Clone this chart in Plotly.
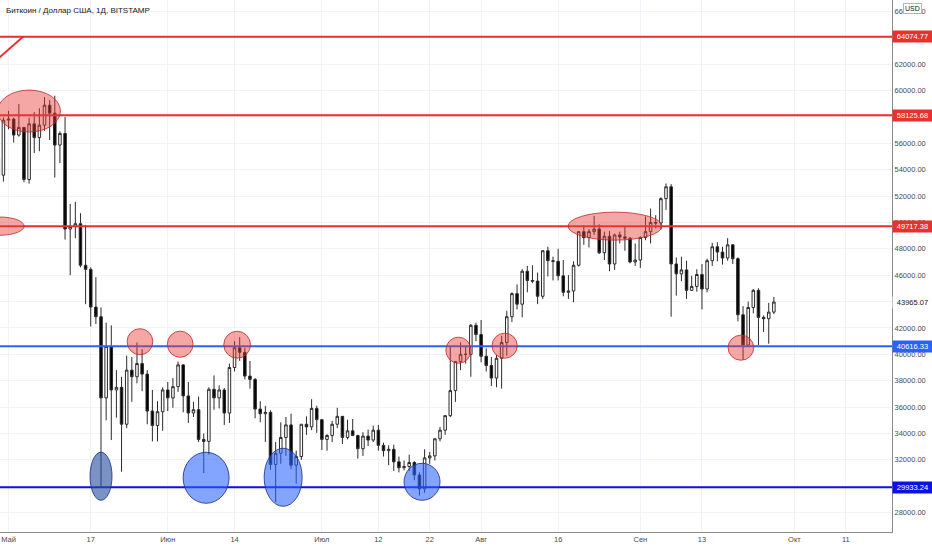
import pandas as pd
import plotly.graph_objects as go

# BTC/USD daily, Bitstamp
dates = pd.date_range("2021-04-29", "2021-09-27", freq="D")

opens = [54890, 53580, 57750, 57830, 56620, 57200, 53250, 57470, 56430, 57370, 58880, 58280, 55860, 56740,
         49500, 49700, 49900, 46750, 46440, 43580, 42850, 36700, 40600, 37300, 37500, 34700, 38800, 38300,
         39300, 38500, 35700, 34600, 35650, 37300, 36700, 37550, 39200, 36850, 35550, 35800, 33550, 33400,
         37350, 36700, 37300, 35550, 39000, 40500, 40150, 38350, 38100, 35850, 35500, 35600, 31650, 32500,
         33700, 34650, 31600, 32250, 34700, 34500, 35900, 35050, 33550, 33850, 34700, 35300, 33700, 34200,
         33850, 32850, 33800, 33500, 34250, 33100, 32700, 32800, 31850, 31400, 31500, 31800, 30850, 29800,
         32150, 32300, 33600, 34250, 35350, 37250, 39450, 40000, 40000, 42200, 41500, 39850, 39150, 38200,
         39700, 40900, 42850, 44600, 43800, 46300, 45600, 45550, 44400, 47850, 47100, 47050, 45950, 44700,
         44800, 46750, 49300, 48850, 49300, 49500, 47700, 48950, 46850, 49050, 48900, 48800, 47000, 47150,
         48850, 49300, 50000, 49950, 51800, 52700, 46850, 46100, 46400, 44850, 45150, 46050, 44950, 47100,
         48150, 47750, 47300, 48300, 47250, 43000, 40700, 43550, 44850, 42800, 42700, 43200]
highs = [55200, 57960, 58460, 57940, 58980, 57230, 57940, 58360, 58650, 59500, 59270, 59600, 56900, 58000,
         51400, 51560, 50700, 49800, 46600, 45850, 43550, 42400, 42200, 38800, 38300, 39900, 39800, 40900,
         40400, 38800, 37300, 36450, 37500, 37900, 38200, 39450, 39250, 37900, 36400, 36800, 34000, 37500,
         38400, 37650, 37450, 39300, 41000, 41300, 40500, 39500, 38200, 36450, 36100, 35750, 33350, 34850,
         35250, 35500, 32700, 34700, 35300, 36600, 36100, 35050, 33950, 34950, 35950, 35300, 35050, 35100,
         33900, 34100, 34300, 34600, 34650, 33300, 33100, 33150, 32250, 31950, 32400, 31900, 31050, 32800,
         32600, 33600, 34500, 35400, 40550, 39500, 40900, 40600, 42300, 42400, 42600, 40450, 39800, 39950,
         41400, 43300, 44700, 45300, 46450, 46700, 46750, 46200, 47900, 48150, 47400, 48000, 47150, 46000,
         47050, 49350, 49800, 49500, 50500, 49850, 49300, 49350, 49150, 49300, 49650, 48900, 48400, 48950,
         50450, 51050, 50550, 51900, 52950, 52900, 47350, 47400, 47100, 45950, 46450, 46850, 47250, 48450,
         48500, 48150, 48800, 48350, 47350, 43650, 44000, 44950, 45000, 42950, 43900, 44350]
lows = [52370, 53090, 57060, 56050, 56500, 53050, 52940, 55250, 55400, 56950, 56250, 53400, 54500, 48700,
        46000, 48800, 46600, 43800, 42100, 42300, 30000, 35000, 33500, 35200, 31100, 34400, 36400, 37800,
        37200, 34700, 33400, 33400, 34200, 35700, 35950, 37150, 35600, 34800, 35250, 33350, 31000, 32400,
        35800, 35900, 34650, 34800, 38700, 39500, 38100, 37400, 35150, 34850, 33350, 31250, 28800, 31700,
        32300, 31300, 30200, 32000, 33900, 34250, 34050, 32750, 32700, 33350, 34400, 33200, 33550, 33800,
        32100, 32300, 33050, 33350, 32700, 32250, 31600, 31150, 31050, 31200, 31150, 30450, 29300, 29500,
        31700, 31950, 33400, 33900, 35250, 36400, 38800, 39300, 38300, 41000, 39400, 38700, 37600, 37500,
        37400, 39900, 42450, 43400, 42800, 44700, 45400, 43800, 44200, 45900, 45600, 45600, 44400, 44200,
        43950, 46650, 48300, 48100, 49050, 47600, 47150, 46300, 46400, 48400, 47850, 46900, 46700, 46550,
        48650, 48400, 49550, 49450, 50950, 42850, 44450, 45550, 44200, 44800, 44750, 43400, 44700, 46700,
        47050, 46800, 47100, 46850, 42500, 39600, 40550, 43100, 40700, 41700, 40800, 43050]
closes = [53580, 57750, 57830, 56620, 57200, 53250, 57470, 56430, 57370, 58880, 58280, 55860, 56740, 49500,
          49700, 49900, 46750, 46440, 43580, 42850, 36700, 40600, 37300, 37500, 34700, 38800, 38300, 39300,
          38500, 35700, 34600, 35650, 37300, 36700, 37550, 39200, 36850, 35550, 35800, 33550, 33400, 37350,
          36700, 37300, 35550, 39000, 40500, 40150, 38350, 38100, 35850, 35500, 35600, 31650, 32500, 33700,
          34650, 31600, 32250, 34700, 34500, 35900, 35050, 33550, 33850, 34700, 35300, 33700, 34200, 33850,
          32850, 33800, 33500, 34250, 33100, 32700, 32800, 31850, 31400, 31500, 31800, 30850, 29800, 32150,
          32300, 33600, 34250, 35350, 37250, 39450, 40000, 40000, 42200, 41500, 39850, 39150, 38200, 39700,
          40900, 42850, 44600, 43800, 46300, 45600, 45550, 44400, 47850, 47100, 47050, 45950, 44700, 44800,
          46750, 49300, 48850, 49300, 49500, 47700, 48950, 46850, 49050, 48900, 48800, 47000, 47150, 48850,
          49300, 50000, 49950, 51800, 52700, 46850, 46100, 46400, 44850, 45150, 46050, 44950, 47100, 48150,
          47750, 47300, 48300, 47250, 43000, 40700, 43550, 44850, 42800, 42700, 43200, 43965.07]

# horizontal levels drawn on the chart
level_prices = [64074.77, 58125.68, 49717.38, 40616.33, 29933.24]
level_colors = ["#e8312f", "#e8312f", "#e8312f", "#2962ff", "#0a12e8"]
last_price = 43965.07

# marked zones: centre date, centre price, half width (days), half height (price)
red_centres = ["2021-05-05 00:00", "2021-04-29 08:00", "2021-05-26 14:00", "2021-06-03 10:00",
               "2021-06-14 12:00", "2021-07-27 14:00", "2021-08-05 14:00", "2021-08-27 02:00",
               "2021-09-20 14:00"]
red_prices = [58440, 49717, 40957, 40768, 40730, 40313, 40654, 49717, 40502]
red_rx = [6.1, 4.7, 2.5, 2.5, 2.6, 2.45, 2.45, 9.15, 2.5]
red_ry = [1590, 690, 990, 990, 1020, 990, 950, 1060, 950]

blue_centres = ["2021-05-19 00:00", "2021-06-08 11:00", "2021-06-23 11:00", "2021-07-20 12:00"]
blue_prices = [30756, 30643, 30680, 30339]
blue_rx = [2.14, 4.48, 3.7, 3.5]
blue_ry = [1820, 1934, 2200, 1403]
blue_fill = ["rgba(40,80,160,0.62)", "rgba(41,98,255,0.58)", "rgba(41,98,255,0.58)", "rgba(41,98,255,0.58)"]

# trend line at top left
trend_dates = ["2021-04-27 08:00", "2021-05-03 19:30"]
trend_prices = [61848, 64074.77]

tick_dates = ["2021-05-01", "2021-05-17", "2021-06-01", "2021-06-14", "2021-07-01", "2021-07-12",
              "2021-07-22", "2021-08-01", "2021-08-16", "2021-09-01", "2021-09-13", "2021-10-01",
              "2021-10-11"]
tick_text = ["Май", "17", "Июн", "14", "Июл", "12", "22", "Авг", "16", "Сен", "13", "Окт", "11"]

FONT = "Liberation Sans"

fig = go.Figure()
fig.add_trace(go.Candlestick(
    x=dates, open=opens, high=highs, low=lows, close=closes,
    increasing=dict(line=dict(color="#2b2b2b", width=1), fillcolor="#ffffff"),
    decreasing=dict(line=dict(color="#2b2b2b", width=1), fillcolor="#000000"),
    whiskerwidth=0, showlegend=False,
))

shapes = []
for p, c in zip(level_prices, level_colors):
    shapes.append(dict(type="line", xref="paper", x0=0, x1=1, yref="y", y0=p, y1=p,
                       line=dict(color=c, width=2), layer="above"))
shapes.append(dict(type="line", xref="x", yref="y", x0=trend_dates[0], x1=trend_dates[1],
                   y0=trend_prices[0], y1=trend_prices[1], line=dict(color="#e8312f", width=2)))

for c, p, rx, ry in zip(red_centres, red_prices, red_rx, red_ry):
    t = pd.Timestamp(c)
    shapes.append(dict(type="circle", xref="x", yref="y",
                       x0=t - pd.Timedelta(days=rx), x1=t + pd.Timedelta(days=rx),
                       y0=p - ry, y1=p + ry,
                       fillcolor="rgba(232,60,55,0.45)", line=dict(color="rgba(190,40,40,0.8)", width=1),
                       layer="above"))
for c, p, rx, ry, f in zip(blue_centres, blue_prices, blue_rx, blue_ry, blue_fill):
    t = pd.Timestamp(c)
    shapes.append(dict(type="circle", xref="x", yref="y",
                       x0=t - pd.Timedelta(days=rx), x1=t + pd.Timedelta(days=rx),
                       y0=p - ry, y1=p + ry,
                       fillcolor=f, line=dict(color="rgba(30,50,140,0.85)", width=1),
                       layer="above"))

annotations = [dict(text="Биткоин / Доллар США, 1Д, BITSTAMP", xref="paper", yref="paper", x=0, y=1,
                    xanchor="left", yanchor="top", xshift=4, yshift=-4, showarrow=False,
                    font=dict(family=FONT, size=8, color="#131722")),
               dict(text="USD", xref="paper", yref="paper", x=1, y=1, xanchor="center", yanchor="top",
                    xshift=20, yshift=-3, showarrow=False, bgcolor="#ffffff", bordercolor="#b2b5be",
                    borderwidth=1, borderpad=1, font=dict(family=FONT, size=7, color="#131722"))]
for p, c in zip(level_prices, level_colors):
    annotations.append(dict(text=f"{p:.2f}", xref="paper", yref="y", x=1, y=p, xanchor="left",
                            yanchor="middle", showarrow=False, bgcolor=c, width=37, borderpad=1,
                            font=dict(family=FONT, size=7.5, color="#ffffff")))
annotations.append(dict(text=f"{last_price:.2f}", xref="paper", yref="y", x=1, y=last_price,
                        xanchor="left", yanchor="middle", showarrow=False, bgcolor="#ffffff", width=37,
                        borderpad=1, font=dict(family=FONT, size=7.5, color="#131722")))

fig.update_layout(
    width=932, height=550,
    margin=dict(l=0, r=40, t=0, b=18, autoexpand=False),
    paper_bgcolor="#ffffff", plot_bgcolor="#ffffff",
    shapes=shapes, annotations=annotations,
    font=dict(family=FONT, size=7.5, color="#4a4a4a"),
    xaxis=dict(type="date", range=["2021-04-29 08:00", "2021-10-20 00:00"], automargin=False,
               tickvals=tick_dates, ticktext=tick_text, showgrid=True, gridcolor="#f0f3fa",
               gridwidth=1, showline=True, linecolor="#8a8a8a", linewidth=1, ticks="",
               rangeslider=dict(visible=False), zeroline=False,
               tickfont=dict(family=FONT, size=7.5, color="#4a4a4a")),
    yaxis=dict(side="right", range=[26532, 66858], dtick=2000, tick0=0, tickformat=".2f",
               automargin=False, showgrid=True, gridcolor="#f0f3fa", gridwidth=1, showline=True,
               linecolor="#8a8a8a", linewidth=1, ticks="", zeroline=False,
               tickfont=dict(family=FONT, size=7.5, color="#4a4a4a")),
)

# the page's default body margin shifts the figure; drop it
fig.write_html("out.html", config={"displayModeBar": False},
               post_script="document.body.style.margin='0';document.body.style.overflow='hidden';")
